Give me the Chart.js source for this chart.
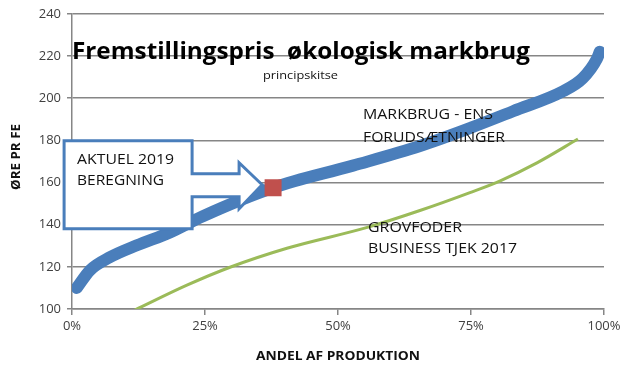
<!DOCTYPE html>
<html>
<head>
<meta charset="utf-8">
<script src="https://cdn.jsdelivr.net/npm/chart.js@4"></script>
<style>
  html, body { margin: 0; padding: 0; background: #fff; }
  #wrap { width: 640px; height: 372px; }
</style>
</head>
<body>
<div id="wrap"><canvas id="chart" width="640" height="372"></canvas></div>
<script>
// values (x = share of production in %, y = øre pr FE)
const markbrugX = [0.9, 3.4, 7.1, 12.2, 18.4, 24.6, 37.8, 52.8, 65.4, 75, 82.9, 92.3, 96, 98.7, 99.2];
const markbrugY = [110, 118.4, 124.5, 130.2, 136.3, 144.0, 157.5, 168.0, 177.3, 186, 193.8, 203.3, 209.4, 218.8, 222];
const grovfoderX = [11.8, 21.6, 29.7, 40.4, 55.5, 65.4, 74.8, 80.5, 87.4, 95.1];
const grovfoderY = [99.5, 111.3, 119.8, 128.8, 138.7, 146.7, 155.2, 160.8, 169.3, 180.6];
const aktuelX = [37.8];
const aktuelY = [157.5];
const xTicks = [0, 25, 50, 75, 100];
const yTicks = [100, 120, 140, 160, 180, 200, 220, 240];

const FONT = "'Open Sans', 'Liberation Sans', sans-serif";

function points(xs, ys) {
  return xs.map((x, i) => ({ x: x, y: ys[i] }));
}

// draws text squeezed/stretched to a given width (stand-in for Calibri)
function fitText(ctx, str, x, y, font, width, color) {
  ctx.save();
  ctx.font = font;
  ctx.fillStyle = color || "#000";
  ctx.textBaseline = "alphabetic";
  const w = ctx.measureText(str).width;
  ctx.translate(x, y);
  ctx.scale(width / w, 1);
  ctx.fillText(str, 0, 0);
  ctx.restore();
}

const overlay = {
  id: "overlay",
  afterDatasetsDraw(chart) {
    const ctx = chart.ctx;
    const xs = chart.scales.x;
    const ys = chart.scales.y;
    const tipX = xs.getPixelForValue(aktuelX[0]) - 11;
    const tipY = ys.getPixelForValue(aktuelY[0]) - 3;

    // callout box with arrow
    const left = tipX - 198, right = tipX - 70;
    const top = tipY - 44, bottom = tipY + 44;
    const headX = tipX - 23;
    ctx.save();
    ctx.beginPath();
    ctx.moveTo(left, top);
    ctx.lineTo(right, top);
    ctx.lineTo(right, tipY - 11);
    ctx.lineTo(headX, tipY - 11);
    ctx.lineTo(headX, tipY - 22);
    ctx.lineTo(tipX, tipY);
    ctx.lineTo(headX, tipY + 24);
    ctx.lineTo(headX, tipY + 12);
    ctx.lineTo(right, tipY + 12);
    ctx.lineTo(right, bottom);
    ctx.lineTo(left, bottom);
    ctx.closePath();
    ctx.fillStyle = "#fff";
    ctx.fill();
    ctx.lineWidth = 3;
    ctx.strokeStyle = "#4a7ebb";
    ctx.lineJoin = "miter";
    ctx.stroke();
    ctx.restore();

    fitText(ctx, "AKTUEL 2019", left + 13, top + 23, "15px " + FONT, 97, "#111");
    fitText(ctx, "BEREGNING", left + 13, top + 44, "15px " + FONT, 87, "#111");
  },
  afterDraw(chart) {
    const ctx = chart.ctx;
    fitText(ctx, "Fremstillingspris  økologisk markbrug", 72, 59, "bold 23px " + FONT, 458, "#000");
    fitText(ctx, "principskitse", 263, 79, "11px " + FONT, 75, "#111");
    fitText(ctx, "MARKBRUG - ENS", 363, 119, "15px " + FONT, 130, "#111");
    fitText(ctx, "FORUDSÆTNINGER", 363, 142, "15px " + FONT, 142, "#111");
    fitText(ctx, "GROVFODER", 368, 232, "15px " + FONT, 94, "#111");
    fitText(ctx, "BUSINESS TJEK 2017", 368, 253, "15px " + FONT, 149, "#111");
    fitText(ctx, "ANDEL AF PRODUKTION", 256, 360, "bold 13px " + FONT, 164, "#111");

    ctx.save();
    ctx.translate(20, 157);
    ctx.rotate(-Math.PI / 2);
    ctx.font = "bold 13px " + FONT;
    const w = ctx.measureText("ØRE PR FE").width;
    ctx.scale(66 / w, 1);
    ctx.fillStyle = "#111";
    ctx.fillText("ØRE PR FE", -w / 2, 0);
    ctx.restore();
  }
};

new Chart(document.getElementById("chart"), {
  type: "line",
  data: {
    datasets: [
      {
        label: "Aktuel 2019",
        data: points(aktuelX, aktuelY),
        showLine: false,
        pointStyle: "rect",
        pointRadius: 12,
        pointBackgroundColor: "#c0504d",
        pointBorderWidth: 0,
        order: 0
      },
      {
        label: "Markbrug - ens forudsætninger",
        data: points(markbrugX, markbrugY),
        borderColor: "#4a7ebb",
        borderWidth: 12,
        borderCapStyle: "round",
        borderJoinStyle: "round",
        cubicInterpolationMode: "monotone",
        pointRadius: 0,
        fill: false,
        order: 1
      },
      {
        label: "Grovfoder Business Tjek 2017",
        data: points(grovfoderX, grovfoderY),
        borderColor: "#9bbb59",
        borderWidth: 3,
        cubicInterpolationMode: "monotone",
        pointRadius: 0,
        fill: false,
        order: 2
      }
    ]
  },
  options: {
    responsive: false,
    animation: false,
    layout: { padding: { left: 0, right: 36, top: 12, bottom: 0 } },
    plugins: {
      legend: { display: false },
      tooltip: { enabled: false }
    },
    scales: {
      x: {
        type: "linear",
        min: 0,
        max: 100,
        afterBuildTicks(scale) {
          scale.ticks = xTicks.map(v => ({ value: v }));
        },
        afterFit(scale) { scale.height = 63; },
        ticks: {
          callback: v => v + "%",
          color: "#404040",
          font: { family: FONT, size: 13 },
          padding: 3,
          maxRotation: 0
        },
        grid: { drawOnChartArea: false, color: "#868686", lineWidth: 1.5, tickLength: 6 },
        border: { color: "#868686", width: 1.5 }
      },
      y: {
        min: 100,
        max: 240,
        afterBuildTicks(scale) {
          scale.ticks = yTicks.map(v => ({ value: v }));
        },
        afterFit(scale) { scale.width = 72; },
        ticks: {
          color: "#404040",
          font: { family: FONT, size: 13 },
          padding: 6
        },
        grid: { color: "#868686", lineWidth: 1.5, tickLength: 5 },
        border: { color: "#868686", width: 1.5 }
      }
    }
  },
  plugins: [overlay]
});
</script>
</body>
</html>
